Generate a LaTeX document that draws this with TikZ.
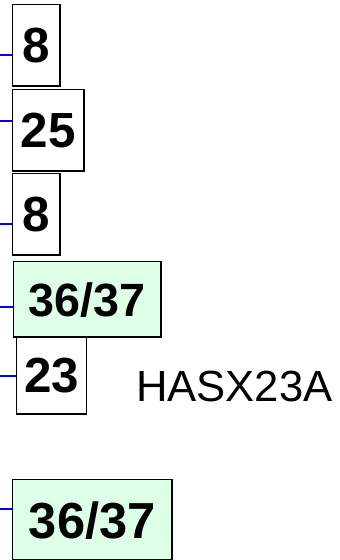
\documentclass[tikz,border=0pt]{standalone}
\usepackage{fontspec}
\setmainfont{Liberation Sans}
\usetikzlibrary{positioning}
\definecolor{pinfill}{RGB}{222,255,232}
\tikzset{
  wire/.style={draw=blue, line width=0.8pt},
  pinbox/.style={draw, line width=1.1pt, inner sep=0pt, anchor=north west,
    text depth=-2pt, font=\bfseries\fontsize{37}{40}\selectfont},
  greenbox/.style={pinbox, fill=pinfill}
}
\begin{document}
\begin{tikzpicture}[x=0.75pt, y=-0.75pt]
  \useasboundingbox (0,0) rectangle (339,560);
  \node[pinbox, minimum width=35.3pt, minimum height=60.8pt] (p8a) at (12,4) {8};
  \node[pinbox, minimum width=53.3pt, minimum height=60.8pt] (p25) at (12,89) {25};
  \node[pinbox, minimum width=35.3pt, minimum height=60.8pt] (p8b) at (12,173) {8};
  \node[greenbox, minimum width=110.3pt, minimum height=56.3pt, font=\bfseries\fontsize{35}{38}\selectfont] (p36a) at (13,261) {36/37};
  \node[pinbox, minimum width=52.5pt, minimum height=57.8pt] (p23) at (16,336) {23};
  \node[greenbox, minimum width=119.3pt, minimum height=60pt, font=\bfseries\fontsize{38}{41}\selectfont] (p36b) at (12,479) {36/37};
  \node[anchor=base west, inner sep=0pt, font=\fontsize{32.7}{36}\selectfont] (part) at (136,401) {HASX23A};

  \coordinate (w1) at (0,55);
  \coordinate (w2) at (0,121);
  \coordinate (w3) at (0,224);
  \coordinate (w4) at (0,307);
  \coordinate (w5) at (0,376);
  \coordinate (w6) at (0,509);
  \draw[wire] (w1) -- (w1 -| p8a.west);
  \draw[wire] (w2) -- (w2 -| p25.west);
  \draw[wire] (w3) -- (w3 -| p8b.west);
  \draw[wire] (w4) -- (w4 -| p36a.west);
  \draw[wire] (w5) -- (w5 -| p23.west);
  \draw[wire] (w6) -- (w6 -| p36b.west);
\end{tikzpicture}
\end{document}
